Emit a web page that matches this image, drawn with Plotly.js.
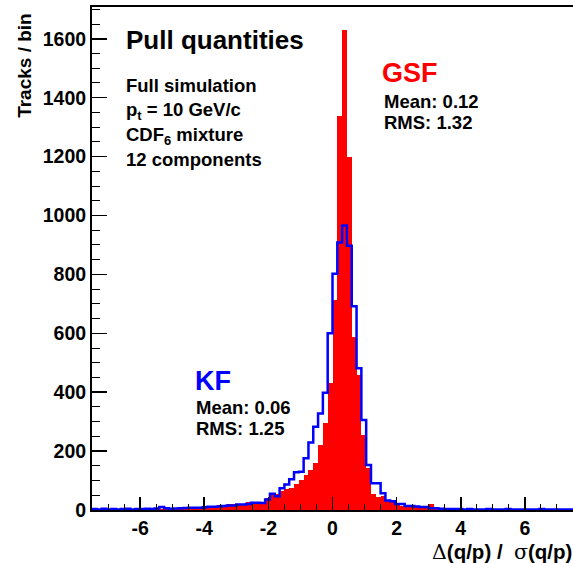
<!DOCTYPE html>
<html>
<head>
<meta charset="utf-8">
<script src="https://cdn.plot.ly/plotly-3.0.1.min.js"></script>
<style>html,body{margin:0;padding:0;background:#fff;}#plot{width:573px;height:563px;}</style>
</head>
<body>
<div id="plot"></div>
<script>
// Binning: 100 bins of width 0.15 over [-7.5, 7.5]
const binMin = -7.5;
const binWidth = 0.15;

// GSF (red filled histogram), tracks per bin
const gsfCounts = [
  1, 1, 2, 1, 1, 2, 1, 1, 2, 1,
  2, 2, 3, 2, 5, 3, 3, 4, 4, 5,
  5, 6, 8, 11, 15, 15, 17, 18, 19, 19,
  18, 17, 26, 26, 24, 28, 40, 52, 55, 65,
  70, 76, 88, 102, 119, 136, 160, 220, 294, 430,
  713, 1338, 1630, 1199, 589, 460, 255, 143, 55, 45,
  48, 32, 30, 23, 13, 11, 10, 11, 10, 10,
  19, 6, 6, 5, 5, 4, 7, 3, 2, 2,
  2, 1, 1, 1, 2, 1, 1, 1, 1, 1,
  1, 1, 1, 1, 1, 1, 1, 1, 1, 1
];

// KF (blue step histogram), tracks per bin
const kfCounts = [
  3, 2, 4, 2, 3, 2, 3, 4, 2, 3,
  3, 4, 3, 5, 10, 6, 4, 5, 6, 7,
  8, 8, 8, 9, 11, 11, 12, 14, 15, 15,
  19, 19, 20, 25, 25, 24, 36, 55, 47, 74,
  87, 104, 128, 130, 176, 229, 283, 328, 398, 600,
  802, 908, 966, 897, 692, 481, 306, 153, 91, 91,
  57, 32, 30, 20, 20, 14, 14, 12, 10, 10,
  6, 6, 4, 3, 3, 3, 3, 2, 3, 2,
  2, 2, 3, 2, 2, 2, 3, 2, 2, 2,
  2, 2, 2, 3, 2, 2, 2, 2, 2, 2
];

const xTickVals = [-6, -4, -2, 0, 2, 4, 6];
const xTickText = ['-6', '-4', '-2', '0', '2', '4', '6'];

const gsfLabel = 'GSF';
const gsfStats = ['Mean: 0.12', 'RMS: 1.32'];
const kfLabel = 'KF';
const kfStats = ['Mean: 0.06', 'RMS: 1.25'];
const infoLines = ['Full simulation', 'p<sub>t</sub> = 10 GeV/c', 'CDF<sub>6</sub> mixture', '12 components'];

const centers = gsfCounts.map((_, i) => binMin + binWidth * (i + 0.5));
const edges = kfCounts.map((_, i) => binMin + binWidth * i);
edges.push(binMin + binWidth * kfCounts.length);
const kfStepY = kfCounts.concat([kfCounts[kfCounts.length - 1]]);

const FONT = 'Liberation Sans, Arial, Helvetica, sans-serif';

const traces = [
  {
    type: 'bar', x: centers, y: gsfCounts, width: binWidth,
    marker: {color: '#ff0000', line: {width: 0}},
    hoverinfo: 'skip', showlegend: false
  },
  {
    type: 'scatter', mode: 'lines', x: edges, y: kfStepY,
    line: {shape: 'hv', color: '#0000ff', width: 2.5},
    hoverinfo: 'skip', showlegend: false
  }
];

function ann(text, x, y, size, color, extra) {
  return Object.assign({
    text: text, x: x, y: y, xref: 'paper', yref: 'paper',
    xanchor: 'left', yanchor: 'middle', showarrow: false,
    font: {family: FONT, size: size, color: color || '#000', weight: 700}
  }, extra || {});
}

const annotations = [
  ann('Pull quantities', 0.0665, 0.934, 26),
  ann(infoLines[0], 0.0665, 0.843, 18.5),
  ann(infoLines[1], 0.0665, 0.793, 18.5),
  ann(infoLines[2], 0.0665, 0.7435, 18.5),
  ann(infoLines[3], 0.0665, 0.696, 18.5),
  ann(gsfLabel, 0.599, 0.869, 27, '#ff0000'),
  ann(gsfStats[0], 0.603, 0.813, 18.5),
  ann(gsfStats[1], 0.603, 0.771, 18.5),
  ann(kfLabel, 0.21, 0.2565, 27, '#0000ff'),
  ann(kfStats[0], 0.212, 0.203, 18.5),
  ann(kfStats[1], 0.212, 0.163, 18.5),
  ann('<span style="font-family:\'DejaVu Serif\';font-weight:normal">Δ</span>(q/p) /  <span style="font-family:\'DejaVu Serif\';font-weight:normal">σ</span>(q/p)',
      1, -0.083, 20.5, '#000', {xanchor: 'right', borderpad: 0}),
  ann('Tracks / bin', -0.1403, 0.884, 19, '#000', {xanchor: 'center', textangle: -90})
];

const layout = {
  width: 573, height: 563,
  margin: {l: 92, r: 0, t: 7, b: 53},
  paper_bgcolor: '#ffffff', plot_bgcolor: '#ffffff',
  bargap: 0, barmode: 'overlay',
  showlegend: false,
  xaxis: {
    range: [-7.5, 7.5], autorange: false,
    tickvals: xTickVals, ticktext: xTickText,
    ticks: 'inside', ticklen: 13, tickwidth: 1.5, tickcolor: '#000',
    minor: {dtick: 0.5, tick0: 0, ticks: 'inside', ticklen: 6.5, tickwidth: 1, tickcolor: '#000', showgrid: false},
    showline: true, linecolor: '#000', linewidth: 2, mirror: true,
    showgrid: false, zeroline: false,
    tickfont: {family: FONT, size: 19.5, color: '#000', weight: 700}
  },
  yaxis: {
    range: [0, 1708], autorange: false,
    dtick: 200, tick0: 0,
    ticks: 'inside', ticklen: 15, tickwidth: 1.5, tickcolor: '#000',
    minor: {dtick: 50, tick0: 0, ticks: 'inside', ticklen: 7.5, tickwidth: 1, tickcolor: '#000', showgrid: false},
    showline: true, linecolor: '#000', linewidth: 2, mirror: true,
    showgrid: false, zeroline: false,
    tickfont: {family: FONT, size: 19.5, color: '#000', weight: 700}
  },
  annotations: annotations
};

Plotly.newPlot('plot', traces, layout, {staticPlot: true, displayModeBar: false});
</script>
</body>
</html>
